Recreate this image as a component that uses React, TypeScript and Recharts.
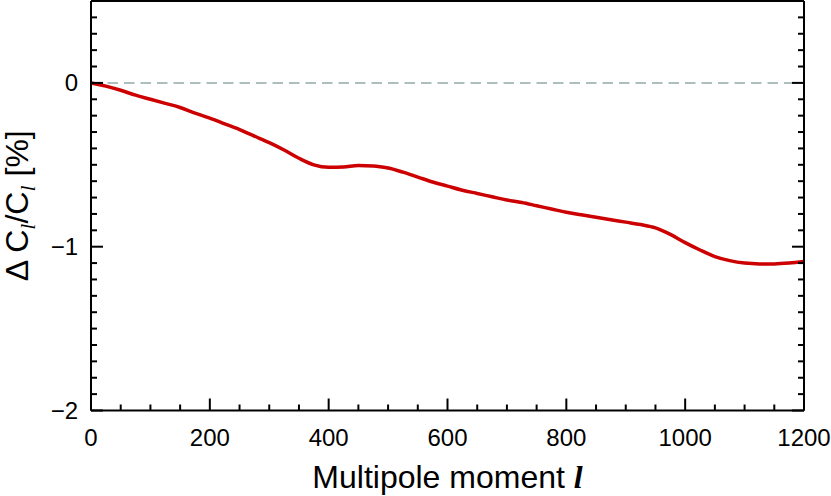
import React from "react";
import { LineChart, Line, XAxis, YAxis, ReferenceLine, Label } from "recharts";

const multipoleL = [
  0, 25, 50, 75, 100, 125, 150, 175, 200, 225, 250, 275, 300, 325, 350, 375, 400,
  425, 450, 475, 500, 525, 550, 575, 600, 625, 650, 675, 700, 725, 750, 775, 800,
  825, 850, 875, 900, 925, 950, 975, 1000, 1025, 1050, 1075, 1100, 1125, 1150, 1175, 1200,
];
const deltaClPercent = [
  0, -0.02, -0.045, -0.075, -0.1, -0.125, -0.15, -0.185, -0.215, -0.25, -0.285, -0.325,
  -0.365, -0.41, -0.46, -0.5, -0.515, -0.513, -0.505, -0.507, -0.52, -0.545, -0.575,
  -0.605, -0.63, -0.655, -0.675, -0.695, -0.715, -0.73, -0.75, -0.77, -0.79, -0.805,
  -0.82, -0.835, -0.85, -0.865, -0.885, -0.925, -0.975, -1.02, -1.06, -1.085, -1.1,
  -1.105, -1.105, -1.1, -1.09,
];

const xMajorTicks = [0, 200, 400, 600, 800, 1000, 1200];
const xMinorTicks = [
  0, 50, 100, 150, 200, 250, 300, 350, 400, 450, 500, 550, 600, 650, 700, 750, 800,
  850, 900, 950, 1000, 1050, 1100, 1150, 1200,
];
const yMajorTicks = [-2, -1, 0];
const yMinorTicks = [
  -2, -1.9, -1.8, -1.7, -1.6, -1.5, -1.4, -1.3, -1.2, -1.1, -1, -0.9, -0.8, -0.7, -0.6,
  -0.5, -0.4, -0.3, -0.2, -0.1, 0, 0.1, 0.2, 0.3, 0.4, 0.5,
];

const data = multipoleL.map((l, i) => ({ l, d: deltaClPercent[i] }));

const SANS = "'Liberation Sans', Arial, Helvetica, sans-serif";
const SERIF = "'Liberation Serif', 'Times New Roman', serif";
const axisLineStyle = { stroke: "#000", strokeWidth: 2 };

const fmt = (v: number) => (v < 0 ? "\u2212" + Math.abs(v) : String(v));

type Side = "bottom" | "top" | "left" | "right";

const makeTick = (side: Side, majors: number[], showLabel: boolean) => (props: any) => {
  const { x, y, payload } = props;
  const v = payload.value;
  const major = majors.some((m) => Math.abs(m - v) < 1e-9);
  const len = major ? 12 : 6;
  let x2 = x;
  let y2 = y;
  if (side === "bottom") y2 = y - len;
  if (side === "top") y2 = y + len;
  if (side === "left") x2 = x + len;
  if (side === "right") x2 = x - len;
  let label = null;
  if (showLabel && major) {
    if (side === "bottom") {
      label = (
        <text x={x} y={y + 35.5} textAnchor="middle" fontSize={24} fontFamily={SANS} fill="#000">
          {fmt(v)}
        </text>
      );
    } else if (side === "left") {
      label = (
        <text x={x - 13} y={y + 8.5} textAnchor="end" fontSize={24} fontFamily={SANS} fill="#000">
          {fmt(v)}
        </text>
      );
    }
  }
  return (
    <g>
      <line x1={x} y1={y} x2={x2} y2={y2} stroke="#000" strokeWidth={2} />
      {label}
    </g>
  );
};

const XTitle = (props: any) => {
  const vb = props.viewBox || {};
  const cx = vb.x + vb.width / 2;
  return (
    <text x={cx} y={488} textAnchor="middle" fontSize={32} fontFamily={SANS} fill="#000">
      Multipole moment{" "}
      <tspan fontFamily={SERIF} fontStyle="italic" fontWeight="bold">
        l
      </tspan>
    </text>
  );
};

const YTitle = (props: any) => {
  const vb = props.viewBox || {};
  const cy = vb.y + vb.height / 2;
  const cx = 28;
  return (
    <text
      x={cx}
      y={cy}
      transform={`rotate(-90 ${cx} ${cy})`}
      textAnchor="middle"
      fontSize={32}
      fontFamily={SANS}
      fill="#000"
    >
      {"\u0394 C"}
      <tspan fontFamily={SERIF} fontStyle="italic" fontSize={22} dy={7}>
        l
      </tspan>
      <tspan dy={-7}>/C</tspan>
      <tspan fontFamily={SERIF} fontStyle="italic" fontSize={22} dy={7}>
        l
      </tspan>
      <tspan dy={-7}>{" [%]"}</tspan>
    </text>
  );
};

export default function App() {
  return (
    <div style={{ position: "absolute", left: 0, top: 0, width: 831, height: 496, background: "#fff" }}>
      <LineChart
        width={831}
        height={496}
        data={data}
        margin={{ top: 1, right: 27, left: 90, bottom: 84.5 }}
      >
        <XAxis
          xAxisId="main"
          dataKey="l"
          type="number"
          orientation="bottom"
          domain={[0, 1200]}
          allowDataOverflow
          ticks={xMinorTicks}
          interval={0}
          height={1}
          tickLine={false}
          tickSize={0}
          tickMargin={0}
          axisLine={axisLineStyle}
          tick={makeTick("bottom", xMajorTicks, true)}
        >
          <Label content={XTitle} />
        </XAxis>
        <XAxis
          xAxisId="top"
          type="number"
          orientation="top"
          mirror
          domain={[0, 1200]}
          allowDataOverflow
          ticks={xMinorTicks}
          interval={0}
          height={1}
          tickLine={false}
          tickSize={0}
          tickMargin={0}
          axisLine={axisLineStyle}
          tick={makeTick("top", xMajorTicks, false)}
        />
        <YAxis
          yAxisId="main"
          type="number"
          orientation="left"
          domain={[-2, 0.5]}
          allowDataOverflow
          ticks={yMinorTicks}
          interval={0}
          width={1}
          tickLine={false}
          tickSize={0}
          tickMargin={0}
          axisLine={axisLineStyle}
          tick={makeTick("left", yMajorTicks, true)}
        >
          <Label content={YTitle} />
        </YAxis>
        <YAxis
          yAxisId="right"
          type="number"
          orientation="right"
          mirror
          domain={[-2, 0.5]}
          allowDataOverflow
          ticks={yMinorTicks}
          interval={0}
          width={1}
          tickLine={false}
          tickSize={0}
          tickMargin={0}
          axisLine={axisLineStyle}
          tick={makeTick("right", yMajorTicks, false)}
        />

        <ReferenceLine xAxisId="main" yAxisId="main" y={0} stroke="#94a8a8" strokeWidth={1.5} strokeDasharray="10.5 6" />
        <Line
          xAxisId="main"
          yAxisId="main"
          dataKey="d"
          type="monotone"
          stroke="#cc0000"
          strokeWidth={3.5}
          dot={false}
          activeDot={false}
          isAnimationActive={false}
        />
      </LineChart>
    </div>
  );
}
